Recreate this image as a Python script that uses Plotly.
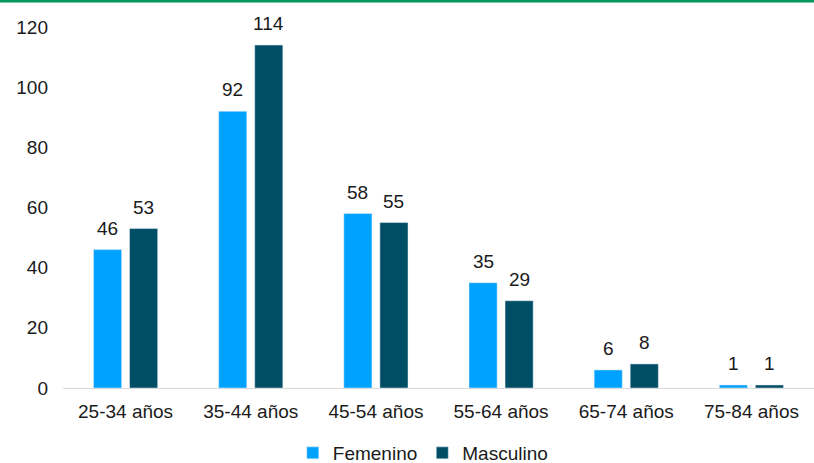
import plotly.graph_objects as go

categories = ["25-34 años", "35-44 años", "45-54 años", "55-64 años", "65-74 años", "75-84 años"]
femenino = [46, 92, 58, 35, 6, 1]
masculino = [53, 114, 55, 29, 8, 1]

font = "Liberation Sans, Arial, sans-serif"
FS = 19
fig = go.Figure()
fig.add_trace(go.Bar(name="Femenino", x=categories, y=femenino, marker_color="#00A2FF"))
fig.add_trace(go.Bar(name="Masculino", x=categories, y=masculino, marker_color="#004E66"))

for vals, shift in ((femenino, -18), (masculino, 18)):
    for c, v in zip(categories, vals):
        fig.add_annotation(x=c, y=v, text=str(v), showarrow=False, xshift=shift, yshift=9,
                           yanchor="bottom", font=dict(size=FS, color="#1a1a1a", family=font))

fig.update_layout(
    width=814, height=463,
    margin=dict(l=63, r=0, t=27, b=75),
    barmode="group", bargap=0.424, bargroupgap=0.22,
    plot_bgcolor="white", paper_bgcolor="white",
    font=dict(family=font, size=FS, color="#1a1a1a"),
    showlegend=True,
    legend=dict(orientation="h", x=0.52, xanchor="center", xref="container",
                y=1 - 453 / 463, yanchor="middle", yref="container", itemwidth=30,
                font=dict(size=FS), traceorder="normal"),
    xaxis=dict(showgrid=False, showline=True, linecolor="#d9d9d9", linewidth=1,
               tickfont=dict(size=FS), ticks="", ticklabelstandoff=6),
    yaxis=dict(range=[0, 120], dtick=20, showgrid=False, zeroline=False, showline=False,
               tickfont=dict(size=FS), ticklabelstandoff=14),
)
fig.add_shape(type="line", xref="paper", yref="paper", x0=-63/751, x1=1, y0=1 + 26/361, y1=1 + 26/361,
              line=dict(color="#00965E", width=3))
fig.write_html("out.html")
